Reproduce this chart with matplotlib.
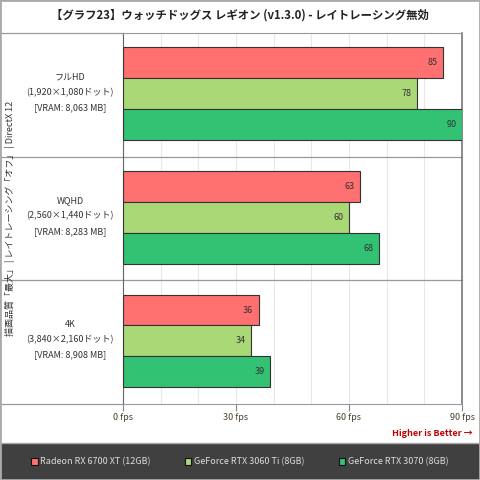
import matplotlib
matplotlib.use('Agg')
import matplotlib.pyplot as plt
from matplotlib.patches import Rectangle, Patch
import numpy as np

plt.rcParams['font.family'] = ['Noto Sans CJK JP', 'DejaVu Sans']

# データ
title = '【グラフ23】ウォッチドッグス レギオン (v1.3.0) - レイトレーシング無効'
side_label = '描画品質「最大」 | レイトレーシング「オフ」 | DirectX 12'
categories = ['フルHD\n(1,920×1,080ドット)\n[VRAM: 8,063 MB]',
              'WQHD\n(2,560×1,440ドット)\n[VRAM: 8,283 MB]',
              '4K\n(3,840×2,160ドット)\n[VRAM: 8,908 MB]']
gpus = ['Radeon RX 6700 XT (12GB)', 'GeForce RTX 3060 Ti (8GB)', 'GeForce RTX 3070 (8GB)']
radeon_6700xt = [85, 63, 36]
rtx_3060ti = [78, 60, 34]
rtx_3070 = [90, 68, 39]
colors = ['#ff7070', '#aad877', '#33c173']
xticks = [0, 30, 60, 90]

series = [radeon_6700xt, rtx_3060ti, rtx_3070]

fig = plt.figure(figsize=(4.8, 4.8), dpi=100)
ax = fig.add_axes([123 / 480, 1 - 404 / 480, 339 / 480, 371 / 480])

# 棒グラフ
h = 0.25
centers = np.arange(len(categories)) + 0.5
for i, (vals, c) in enumerate(zip(series, colors)):
    ys = centers + (i - 1) * h - 0.01
    bars = ax.barh(ys, vals, height=h, color=c, edgecolor='#333333', linewidth=0.8, zorder=3)
    for b, v in zip(bars, vals):
        ax.annotate(str(v), (v, b.get_y() + b.get_height() / 2), xytext=(-4, 0),
                    textcoords='offset points', ha='right', va='center',
                    fontsize=6.5, color='#333333', zorder=4)

ax.set_xlim(0, 90)
ax.set_ylim(len(categories), 0)
ax.set_xticks(xticks)
ax.set_xticklabels([f'{t} fps' for t in xticks], fontsize=6.5, color='#4a4030')
ax.set_xticks(np.arange(0, 91, 10), minor=True)
ax.tick_params(axis='x', which='major', length=5, width=0.8, color='#888888', pad=1.5)
ax.tick_params(axis='x', which='minor', length=0)
ax.set_yticks([])
ax.grid(axis='x', which='both', color='#e8e8e8', linewidth=0.8, zorder=0)

for side in ['top', 'bottom']:
    ax.spines[side].set_color('#999999')
ax.spines['left'].set_color('#666666')
ax.spines['right'].set_color('#777777')
ax.spines['right'].set_linewidth(1.2)

# 左側のラベル欄
trans = ax.get_yaxis_transform()
x0 = -123 / 339
for yv in [0, 1, 2, 3]:
    ax.plot([x0, 0], [yv, yv], transform=trans, color='#999999', linewidth=0.9, clip_on=False)
for yv in [1, 2]:
    ax.plot([0, 1], [yv, yv], transform=trans, color='#999999', linewidth=0.9, clip_on=False, zorder=2)
for c, cat in zip(centers, categories):
    ax.text(-53 / 339, c - 0.02, cat, transform=trans, ha='center', va='center',
            fontsize=6.5, color='#333333', linespacing=1.9)

fig.text(10 / 480, 1 - 218 / 480, side_label, rotation=90, ha='center', va='center',
         fontsize=6.5, color='#333333')

# タイトル
fig.text(0.5, 1 - 15 / 480, title, ha='center', va='center', fontsize=8.2,
         fontweight='bold', color='#222222')

fig.text(473 / 480, 1 - 433 / 480, 'Higher is Better →', ha='right', va='center',
         fontsize=6.5, fontweight='bold', color='#c00000')

# 凡例
fig.add_artist(Rectangle((0, 0), 1, 37 / 480, transform=fig.transFigure,
                         facecolor='#404040', edgecolor='#aaaaaa', linewidth=1))
handles = [Patch(facecolor=c, edgecolor='#111111', linewidth=0.8) for c in colors]
fig.legend(handles, gpus, loc='center', bbox_to_anchor=(0.5, 18 / 480), ncol=3,
           frameon=False, fontsize=6.5, labelcolor='#dddddd', handlelength=0.7,
           handleheight=0.7, handletextpad=0.3, columnspacing=3.8)

# 外枠
fig.add_artist(Rectangle((0, 0), 1, 1, transform=fig.transFigure, fill=False,
                         edgecolor='#aaaaaa', linewidth=2))

plt.savefig('out.png', dpi=100)
